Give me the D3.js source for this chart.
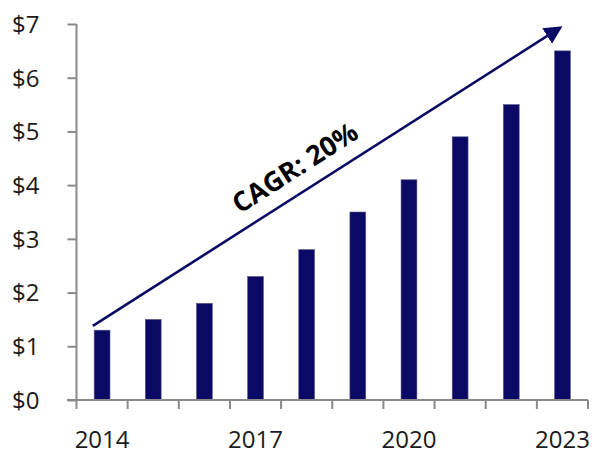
<!DOCTYPE html>
<html><head><meta charset="utf-8">
<script src="https://cdn.jsdelivr.net/npm/d3@7"></script>
<style>body{margin:0;background:#fff}svg{display:block}text{font-family:"Open Sans","Noto Sans",sans-serif}</style>
</head><body><svg id="c" width="603" height="454"></svg>
<script>
const years = ["2014","2015","2016","2017","2018","2019","2020","2021","2022","2023"];
const values = [1.3,1.5,1.8,2.3,2.8,3.5,4.1,4.9,5.5,6.5];
const yTicks = [0,1,2,3,4,5,6,7];
const xLabels = ["2014","2017","2020","2023"];
const arrowFrom = {year:"2014", value:1.38};
const arrowTo = {year:"2023", value:6.96};
const cagrLabel = "CAGR: 20%";

const svg = d3.select("#c");
const x = d3.scaleBand().domain(years).range([76.5,588]).paddingInner(0.69).paddingOuter(0.345);
const xt = d3.scaleBand().domain(years).range([76.5,588]);
const y = d3.scaleLinear().domain([0,7]).range([400,24]);
const navy = "#0a0a66", axisC = "#8a8a8a";

svg.append("g").selectAll("rect").data(values).join("rect")
  .attr("x",(d,i)=>x(years[i])).attr("y",d=>y(d))
  .attr("width",x.bandwidth()).attr("height",d=>y(0)-y(d))
  .attr("fill",navy).attr("stroke","#5a5a8e").attr("stroke-width",0.6);

// y axis
const ya = svg.append("g").attr("transform","translate(76.5,0)")
  .call(d3.axisLeft(y).tickValues(yTicks).tickFormat(d=>"$"+d).tickSize(9).tickPadding(28));
ya.attr("font-family",null).attr("font-size",null);
ya.select(".domain").attr("stroke",axisC).attr("stroke-width",2).attr("d","M0,"+y(7)+"V"+y(0));
ya.selectAll(".tick line").attr("stroke",axisC).attr("stroke-width",2);
ya.selectAll("text").attr("font-size",24).attr("fill","#1a1a1a").attr("dy","0.35em");

// x axis
const xa = svg.append("g").attr("transform","translate(0,400)");
xa.append("line").attr("x1",67).attr("x2",588).attr("stroke",axisC).attr("stroke-width",2);
xa.selectAll("line.t").data(years.concat(["end"])).join("line").attr("class","t")
  .attr("x1",(d,i)=>i<years.length?xt(d):xt.range()[1]).attr("x2",(d,i)=>i<years.length?xt(d):xt.range()[1])
  .attr("y1",0).attr("y2",9).attr("stroke",axisC).attr("stroke-width",2);
xa.selectAll("text").data(xLabels).join("text")
  .attr("x",d=>xt(d)+xt.bandwidth()/2).attr("y",48).attr("text-anchor","middle")
  .attr("font-size",24).attr("fill","#1a1a1a").text(d=>d);

// arrow
const defs = svg.append("defs");
defs.append("marker").attr("id","ah").attr("viewBox","0 0 10 10").attr("refX",8).attr("refY",5)
  .attr("markerWidth",7).attr("markerHeight",7).attr("orient","auto").attr("markerUnits","strokeWidth")
  .append("path").attr("d","M0,0L10,5L0,10z").attr("fill",navy);
const x1 = xt(arrowFrom.year)+xt.bandwidth()*0.32, y1 = y(arrowFrom.value);
const x2 = xt(arrowTo.year)+xt.bandwidth()/2, y2 = y(arrowTo.value);
svg.append("line").attr("x1",x1).attr("y1",y1).attr("x2",x2-3).attr("y2",y2+2)
  .attr("stroke",navy).attr("stroke-width",2.6).attr("marker-end","url(#ah)");
const ang = Math.atan2(y2-y1,x2-x1)*180/Math.PI;
const tx = 300, ty = y1 + (tx-x1)*(y2-y1)/(x2-x1) - 18;
svg.append("text").attr("transform",`translate(${tx},${ty}) rotate(${ang})`)
  .attr("text-anchor","middle").attr("font-size",27).attr("font-weight","bold").attr("fill","#000")
  .text(cagrLabel);
</script></body></html>
